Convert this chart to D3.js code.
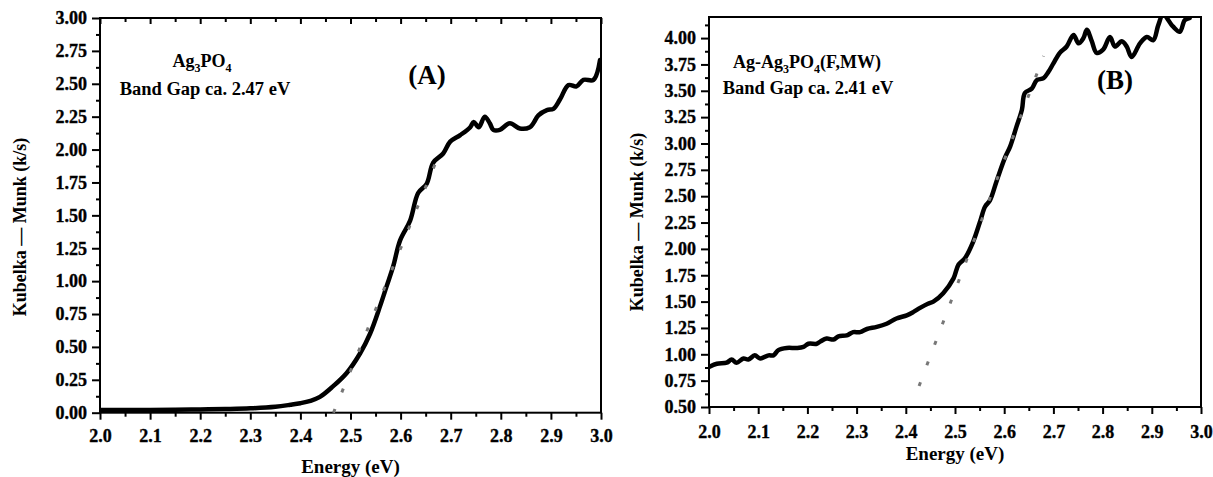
<!DOCTYPE html>
<html>
<head>
<meta charset="utf-8">
<script src="https://cdnjs.cloudflare.com/ajax/libs/d3/7.8.5/d3.min.js"></script>
<style>
    body { margin: 0; background: #fff; }
    svg text { font-family: "Liberation Serif", "Times New Roman", serif; font-weight: bold; fill: #000; }
</style>
</head>
<body>
<svg id="chart" width="1213" height="477"></svg>
<script>
/**
 * Energy axis (eV), shared by both panels.
 * @type Array
 */
var X_TICKS = [2.0, 2.1, 2.2, 2.3, 2.4, 2.5, 2.6, 2.7, 2.8, 2.9, 3.0];
var Y_TICKS_A = [0, 0.25, 0.5, 0.75, 1.0, 1.25, 1.5, 1.75, 2.0, 2.25, 2.5, 2.75, 3.0];
var Y_TICKS_B = [0.5, 0.75, 1.0, 1.25, 1.5, 1.75, 2.0, 2.25, 2.5, 2.75, 3.0, 3.25, 3.5, 3.75, 4.0];

/**
 * Panel (A) : Ag3PO4.
 */
var energyA = [2.0, 2.05, 2.1, 2.15, 2.2, 2.25, 2.3, 2.35, 2.38, 2.4, 2.42, 2.439, 2.465, 2.492, 2.519,
    2.539, 2.559, 2.572, 2.585, 2.599, 2.619, 2.635, 2.652, 2.665, 2.685, 2.699, 2.719, 2.739,
    2.746, 2.756, 2.768, 2.778, 2.785, 2.798, 2.818, 2.838, 2.858, 2.865, 2.875, 2.892, 2.905,
    2.918, 2.935, 2.951, 2.965, 2.985, 2.998];
var kmA = [0.02, 0.02, 0.02, 0.022, 0.025, 0.028, 0.033, 0.045, 0.06, 0.072, 0.09, 0.12, 0.20, 0.30, 0.45,
    0.60, 0.81, 0.96, 1.11, 1.31, 1.46, 1.67, 1.74, 1.90, 1.97, 2.06, 2.11, 2.17,
    2.21, 2.17, 2.25, 2.20, 2.15, 2.15, 2.20, 2.16, 2.17, 2.20, 2.26, 2.30, 2.31,
    2.38, 2.49, 2.48, 2.53, 2.53, 2.68];
var tangentA = { energy: [2.466, 2.672], km: [0, 1.92] };

/**
 * Panel (B) : Ag-Ag3PO4(F,MW).
 */
var energyB = [2.0, 2.016, 2.036, 2.046, 2.056, 2.07, 2.08, 2.093, 2.104, 2.121, 2.131, 2.141, 2.158,
    2.178, 2.192, 2.202, 2.219, 2.226, 2.239, 2.253, 2.263, 2.28, 2.293, 2.307, 2.321, 2.341,
    2.361, 2.381, 2.402, 2.415, 2.429, 2.445, 2.456, 2.476, 2.497, 2.507, 2.52, 2.537, 2.551,
    2.561, 2.571, 2.585, 2.602, 2.612, 2.625, 2.636, 2.642, 2.656, 2.666, 2.68, 2.69, 2.7,
    2.713, 2.727, 2.741, 2.751, 2.761, 2.768, 2.778, 2.788, 2.801, 2.815, 2.825, 2.839, 2.849,
    2.859, 2.876, 2.89, 2.903, 2.913, 2.923, 2.943, 2.957, 2.967, 2.977];
var kmB = [0.88, 0.91, 0.92, 0.95, 0.92, 0.96, 0.95, 0.99, 0.96, 0.99, 0.99, 1.04, 1.06,
    1.06, 1.07, 1.10, 1.10, 1.12, 1.15, 1.14, 1.17, 1.18, 1.21, 1.21, 1.24, 1.26,
    1.29, 1.34, 1.37, 1.40, 1.44, 1.48, 1.50, 1.58, 1.72, 1.85, 1.91, 2.07, 2.26,
    2.40, 2.46, 2.65, 2.87, 2.97, 3.16, 3.32, 3.48, 3.52, 3.60, 3.62, 3.68, 3.76,
    3.86, 3.92, 4.03, 3.95, 4.00, 4.08, 3.97, 3.86, 3.89, 4.01, 3.92, 3.97, 3.92,
    3.82, 3.95, 4.01, 3.98, 4.12, 4.22, 4.11, 4.06, 4.17, 4.19];
var tangentB = { energy: [2.427, 2.68], km: [0.70, 3.83] };

var svg = d3.select('#chart');

/**
 * <p>
 * Draws one Kubelka-Munk panel : frame, axes, curve, tangent and notes.
 * </p>
 * @param {Object} p panel settings
 * @returns {undefined}
 */
drawPanel = function(p) {
    var x = d3.scaleLinear().domain([2.0, 3.0]).range([p.left, p.right]);
    var y = d3.scaleLinear().domain(p.yDomain).range([p.bottom, p.top]);
    var g = svg.append('g');

    var clipId = 'clip-' + p.name;
    g.append('clipPath').attr('id', clipId)
        .append('rect')
        .attr('x', p.left).attr('y', p.top)
        .attr('width', p.right - p.left).attr('height', p.bottom - p.top);

    // minor ticks (x every 0.05, y every 0.125)
    var xMinor = X_TICKS.slice(0, -1).map(function(d) { return d + 0.05; });
    var yMinor = p.yTicks.map(function(d) { return d + 0.125; })
        .filter(function(d) { return d <= p.yDomain[1]; });

    var xAxis = d3.axisBottom(x).tickValues(X_TICKS).tickFormat(d3.format('.1f'))
        .tickSizeInner(7).tickSizeOuter(0).tickPadding(p.xPad);
    g.append('g').attr('transform', 'translate(0,' + p.bottom + ')').call(xAxis);
    g.append('g').attr('transform', 'translate(0,' + p.bottom + ')')
        .call(d3.axisBottom(x).tickValues(xMinor).tickSize(4).tickFormat(''));

    var yAxis = d3.axisLeft(y).tickValues(p.yTicks).tickFormat(d3.format('.2f'))
        .tickSizeInner(8).tickSizeOuter(0).tickPadding(5);
    g.append('g').attr('transform', 'translate(' + p.left + ',0)').call(yAxis);
    g.append('g').attr('transform', 'translate(' + p.left + ',0)')
        .call(d3.axisLeft(y).tickValues(yMinor).tickSize(4).tickFormat(''));

    if (p.topTicks) {
        g.append('g').attr('transform', 'translate(0,' + p.top + ')')
            .call(d3.axisTop(x).tickValues(X_TICKS).tickSize(-6).tickFormat(''));
        g.append('g').attr('transform', 'translate(0,' + p.top + ')')
            .call(d3.axisTop(x).tickValues(xMinor).tickSize(-4).tickFormat(''));
    }

    g.selectAll('.domain').remove();
    g.selectAll('.tick line').attr('stroke', '#000').attr('stroke-width', 2);
    g.selectAll('.tick text').attr('font-size', 18).attr('fill', '#000')
        .attr('stroke', '#000').attr('stroke-width', 0.35);

    // frame
    g.append('rect')
        .attr('x', p.left).attr('y', p.top)
        .attr('width', p.right - p.left).attr('height', p.bottom - p.top)
        .attr('fill', 'none').attr('stroke', '#000').attr('stroke-width', 2);

    // data curve
    var pts = p.energy.map(function(e, i) { return [e, p.km[i]]; });
    g.append('path')
        .datum(pts)
        .attr('clip-path', 'url(#' + clipId + ')')
        .attr('fill', 'none')
        .attr('stroke', '#000')
        .attr('stroke-width', 4.5)
        .attr('stroke-linejoin', 'round')
        .attr('stroke-linecap', 'round')
        .attr('d', d3.line()
            .curve(d3.curveCatmullRom.alpha(0.5))
            .x(function(d) { return x(d[0]); })
            .y(function(d) { return y(d[1]); }));

    // tangent (band gap extrapolation), drawn as sparse grey dashes
    var tan = p.tangent.energy.map(function(e, i) { return [e, p.tangent.km[i]]; });
    g.append('path')
        .datum(tan)
        .attr('fill', 'none')
        .attr('stroke', '#777')
        .attr('stroke-width', 3)
        .attr('stroke-dasharray', '4,18')
        .attr('d', d3.line()
            .x(function(d) { return x(d[0]); })
            .y(function(d) { return y(d[1]); }));

    // axis titles
    g.append('text')
        .attr('x', (p.left + p.right) / 2).attr('y', p.xTitleY)
        .attr('text-anchor', 'middle').attr('font-size', 19)
        .text('Energy (eV)');
    g.append('text')
        .attr('transform', 'translate(' + p.yTitleX + ',' + p.yTitleY + ') rotate(-90)')
        .attr('text-anchor', 'middle').attr('font-size', 18)
        .text('Kubelka \u2014 Munk (k/s)');

    // sample name with subscripts
    var name = g.append('text')
        .attr('x', p.nameX).attr('y', p.nameY)
        .attr('text-anchor', 'middle').attr('font-size', 18);
    p.nameParts.forEach(function(part) {
        var t = name.append('tspan').text(part[0]);
        if (part[1]) t.attr('font-size', 12).attr('dy', 5);
        else if (part[2]) t.attr('dy', -5);
    });

    g.append('text')
        .attr('x', p.gapX).attr('y', p.gapY)
        .attr('text-anchor', 'middle').attr('font-size', 18.5)
        .text(p.gapText);

    g.append('text')
        .attr('x', p.tagX).attr('y', p.tagY)
        .attr('text-anchor', 'middle').attr('font-size', 27)
        .text(p.tag);
};

drawPanel({
    name: 'A',
    left: 100, right: 601, top: 18, bottom: 412.7,
    yDomain: [0, 3.0], yTicks: Y_TICKS_A,
    energy: energyA, km: kmA, tangent: tangentA,
    topTicks: true, xPad: 10,
    xTitleY: 473, yTitleX: 26, yTitleY: 227,
    nameParts: [['Ag'], ['3', true], ['PO', false, true], ['4', true], ['', false, true]],
    nameX: 202, nameY: 67,
    gapText: 'Band Gap ca. 2.47 eV', gapX: 205, gapY: 95,
    tag: '(A)', tagX: 427, tagY: 84
});

drawPanel({
    name: 'B',
    left: 709, right: 1201, top: 17, bottom: 407,
    yDomain: [0.5, 4.2], yTicks: Y_TICKS_B,
    energy: energyB, km: kmB, tangent: tangentB,
    topTicks: false, xPad: 11,
    xTitleY: 460, yTitleX: 643, yTitleY: 222,
    nameParts: [['Ag-Ag'], ['3', true], ['PO', false, true], ['4', true], ['(F,MW)', false, true]],
    nameX: 807, nameY: 68,
    gapText: 'Band Gap ca. 2.41 eV', gapX: 808, gapY: 94,
    tag: '(B)', tagX: 1115, tagY: 89
});
</script>
</body>
</html>
